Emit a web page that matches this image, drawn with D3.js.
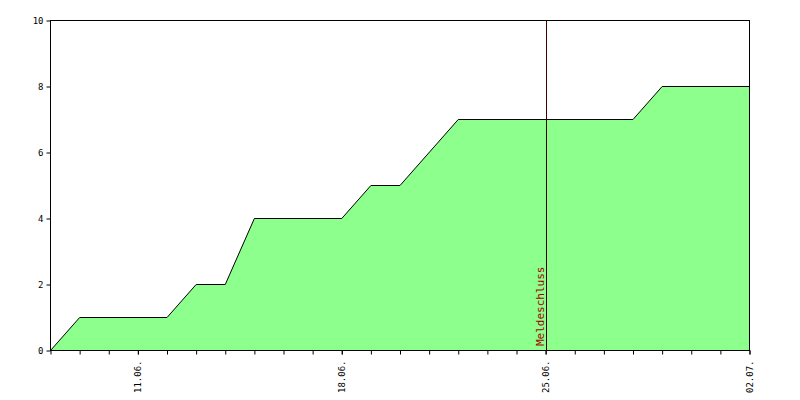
<!DOCTYPE html><html><head><meta charset="utf-8"><script src="https://cdn.jsdelivr.net/npm/d3@7"></script>
<style>body{margin:0;background:#fff}</style></head><body><svg width="800" height="400"></svg><script>
const dates=["08.06.","09.06.","12.06.","13.06.","14.06.","15.06.","18.06.","19.06.","20.06.","22.06.","28.06.","29.06.","02.07."];
const counts=[0,1,1,2,2,4,4,5,5,7,7,8,8];
const yTicks=[0,2,4,6,8,10];
const tickLabels=["11.06.","18.06.","25.06.","02.07."];
const markerDate="25.06.", markerLabel="Meldeschluss";
const p=s=>{const [d,m]=s.split(".");return new Date(2000,+m-1,+d);};
const svg=d3.select("svg");
const x=d3.scaleTime().domain([p("08.06."),p("02.07.")]).range([50.5,749.5]);
const y=d3.scaleLinear().domain([0,10]).range([350.5,20.5]);
const pts=dates.map((d,i)=>[p(d),counts[i]]);
svg.append("path").datum(pts).attr("fill","#8cff8c").attr("stroke","#000").attr("stroke-width",1)
 .attr("d",d3.area().x(d=>x(d[0])).y0(y(0)).y1(d=>y(d[1])));
svg.append("rect").attr("x",50.5).attr("y",20.5).attr("width",699).attr("height",330).attr("fill","none").attr("stroke","#000");
const f="DejaVu Sans Mono";
svg.append("g").attr("transform","translate(50.5,0)").call(d3.axisLeft(y).tickValues(yTicks).tickSize(4).tickFormat(d3.format("d")))
 .call(g=>{g.select(".domain").remove();g.selectAll("text").attr("font-family",f).attr("font-size",9);});
svg.append("g").attr("transform","translate(0,350.5)").call(d3.axisBottom(x).ticks(d3.timeDay.every(1)).tickSize(4).tickFormat(""))
 .call(g=>g.select(".domain").remove());
const ax=svg.append("g").attr("transform","translate(0,350.5)").call(d3.axisBottom(x).tickValues(tickLabels.map(p)).tickSize(4).tickFormat(d3.timeFormat("%d.%m.")));
ax.select(".domain").remove();
ax.selectAll("text").attr("font-family",f).attr("font-size",9).attr("transform","rotate(-90)").attr("text-anchor","end").attr("x",-10).attr("y",0).attr("dy","0.32em");
const mx=Math.round(x(p(markerDate)))+0.5;
svg.append("line").attr("x1",mx).attr("x2",mx).attr("y1",20.5).attr("y2",350.5).attr("stroke","#400000");
svg.append("text").attr("transform",`translate(${mx-3},346) rotate(-90)`).attr("font-family",f).attr("font-size",11).attr("fill","#a00000").text(markerLabel);
</script></body></html>
